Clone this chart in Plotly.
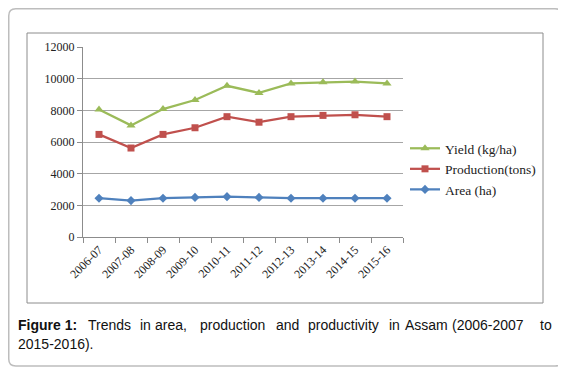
import plotly.graph_objects as go

years = ["2006-07", "2007-08", "2008-09", "2009-10", "2010-11",
         "2011-12", "2012-13", "2013-14", "2014-15", "2015-16"]
yield_kg_ha = [8050, 7050, 8080, 8650, 9550, 9100, 9700, 9780, 9820, 9700]
production_tons = [6480, 5620, 6480, 6900, 7600, 7250, 7600, 7680, 7720, 7600]
area_ha = [2450, 2300, 2450, 2500, 2550, 2500, 2450, 2450, 2450, 2450]
y_ticks = [0, 2000, 4000, 6000, 8000, 10000, 12000]

caption_line1 = ["<b>Figure 1:</b>", "Trends", "in", "area,", "production", "and",
                 "productivity", "in", "Assam", "(2006-2007", "to"]
caption_line1_x = [17, 87, 139, 154, 199, 275, 307, 388, 404, 451, 553]
caption_line2 = "2015-2016)."

# The page body has an 8px margin, so the figure is drawn from (8, 8) in the window.
OFF = 8
W, H = 566 - OFF, 368 - OFF
# plot area in window pixels
L, R, T, B = 83, 403, 47, 237


def px(x):
    return (x - L) / (R - L)


def py(y):
    return (B - y) / (B - T)


fig = go.Figure()
fig.add_trace(go.Scatter(x=years, y=area_ha, name="Area (ha)", mode="lines+markers",
                         line=dict(color="#4F81BD", width=2.25),
                         marker=dict(symbol="diamond", size=7, color="#4F81BD")))
fig.add_trace(go.Scatter(x=years, y=production_tons, name="Production(tons)", mode="lines+markers",
                         line=dict(color="#C0504D", width=2.25),
                         marker=dict(symbol="square", size=7, color="#C0504D")))
fig.add_trace(go.Scatter(x=years, y=yield_kg_ha, name="Yield (kg/ha)", mode="lines+markers",
                         line=dict(color="#9BBB59", width=2.25),
                         marker=dict(symbol="triangle-up", size=8, color="#9BBB59")))

serif = "Liberation Serif, Times New Roman, serif"


def rrect(x0, y0, x1, y1, r):
    rx = r / (R - L)
    ry = r / (B - T)
    X0, X1 = px(x0), px(x1)
    Y0, Y1 = py(y0), py(y1)  # Y0 top, Y1 bottom
    return (f"M {X0+rx},{Y0} L {X1-rx},{Y0} Q {X1},{Y0} {X1},{Y0-ry} "
            f"L {X1},{Y1+ry} Q {X1},{Y1} {X1-rx},{Y1} "
            f"L {X0+rx},{Y1} Q {X0},{Y1} {X0},{Y1+ry} "
            f"L {X0},{Y0-ry} Q {X0},{Y0} {X0+rx},{Y0} Z")


shapes = [
    dict(type="path", xref="paper", yref="paper", path=rrect(8.75, 8.75, 562, 366, 7),
         line=dict(color="#BDBDBD", width=1.5), layer="below"),
    dict(type="rect", xref="paper", yref="paper", x0=px(27), x1=px(543), y0=py(33), y1=py(303),
         line=dict(color="#8C8C8C", width=1), layer="below"),
]

caption_font = dict(family="Liberation Sans, Arial, sans-serif", size=14, color="#111111")
annotations = []
for i, (w, xw) in enumerate(zip(caption_line1, caption_line1_x)):
    last = i == len(caption_line1) - 1
    annotations.append(dict(xref="paper", yref="paper", x=px(xw + (1 if last else -1)), y=py(325),
                            xanchor="right" if last else "left", yanchor="middle",
                            text=w, showarrow=False, font=caption_font))
annotations.append(dict(xref="paper", yref="paper", x=px(16), y=py(344), xanchor="left",
                        yanchor="middle", text=caption_line2, showarrow=False, font=caption_font))

fig.update_layout(
    width=W, height=H,
    margin=dict(l=L - OFF, r=W - (R - OFF), t=T - OFF, b=H - (B - OFF), autoexpand=False),
    paper_bgcolor="white", plot_bgcolor="white",
    showlegend=True,
    legend=dict(x=px(405), y=py(133), xanchor="left", yanchor="top",
                traceorder="reversed", bgcolor="rgba(0,0,0,0)",
                font=dict(family=serif, size=13.5, color="#222222"),
                tracegroupgap=0, itemwidth=30),
    shapes=shapes, annotations=annotations,
    xaxis=dict(type="category", tickangle=-45, tickfont=dict(family=serif, size=12, color="#222222"),
               showgrid=False, showline=True, linecolor="#8C8C8C", linewidth=1,
               ticks="outside", tickson="boundaries", ticklen=5, tickcolor="#8C8C8C",
               range=[-0.5, 9.5], fixedrange=True, automargin=False),
    yaxis=dict(range=[0, 12000], tickvals=y_ticks, tickformat="d",
               tickfont=dict(family=serif, size=12, color="#222222"),
               showgrid=True, gridcolor="#A6A6A6", gridwidth=1, zeroline=False,
               showline=True, linecolor="#8C8C8C", linewidth=1,
               ticks="outside", ticklen=5, tickcolor="#8C8C8C", fixedrange=True, automargin=False),
)

fig.write_html("out.html")
